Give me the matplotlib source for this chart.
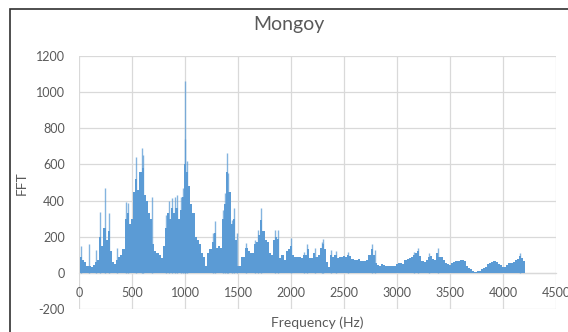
import matplotlib.pyplot as plt
from matplotlib.patches import Rectangle

plt.rcParams['font.family'] = ['Lato', 'DejaVu Sans']
plt.rcParams['axes.unicode_minus'] = False

# FFT magnitude, one value per 20 Hz bin (20 ... 4200 Hz)
freq_hz = list(range(20, 4201, 20))
fft_level = [
    90, 70, 60, 40, 40, 35, 45, 60, 70, 200,          # 20-200
    150, 250, 180, 230, 120, 60, 50, 70, 90, 100,     # 220-400
    130, 300, 330, 270, 300, 450, 520, 460, 560, 580, # 420-600
    430, 400, 330, 300, 160, 120, 110, 100, 80, 150,  # 620-800
    250, 330, 300, 360, 330, 360, 300, 350, 420, 600, # 820-1000
    560, 480, 380, 330, 200, 180, 160, 110, 90, 40,   # 1020-1200
    110, 130, 170, 220, 140, 150, 140, 300, 380, 560, # 1220-1400
    450, 270, 300, 180, 40, 40, 90, 90, 140, 120,     # 1420-1600
    110, 110, 160, 170, 210, 290, 230, 180, 170, 110, # 1620-1800
    100, 180, 200, 190, 80, 100, 70, 120, 130, 150,   # 1820-2000
    100, 90, 85, 90, 80, 100, 100, 130, 80, 80,       # 2020-2200
    110, 90, 100, 140, 160, 130, 60, 30, 100, 90,     # 2220-2400
    100, 80, 85, 90, 95, 90, 100, 95, 75, 70,         # 2420-2600
    70, 75, 65, 65, 65, 70, 100, 130, 100, 55,        # 2620-2800
    45, 40, 50, 45, 40, 40, 40, 40, 40, 50,           # 2820-3000
    55, 55, 50, 70, 75, 80, 90, 100, 110, 120,        # 3020-3200
    95, 65, 60, 70, 90, 95, 75, 70, 110, 90,          # 3220-3400
    85, 70, 55, 50, 45, 55, 60, 65, 65, 70,           # 3420-3600
    70, 65, 40, 25, 20, 10, 5, 8, 10, 20,             # 3620-3800
    25, 30, 50, 55, 60, 65, 60, 50, 45, 30,           # 3820-4000
    35, 45, 55, 55, 60, 70, 75, 95, 80, 65,           # 4020-4200
]

# narrow peaks rising above the bins
spike_hz = [20, 90, 160, 198, 244, 284, 355, 445, 460, 540, 590, 605,
            690, 820, 850, 880, 905, 920, 958, 977, 1000, 1003, 1020,
            1265, 1280, 1360, 1380, 1393, 1410, 1440, 1465, 1487, 1580,
            1660, 1690, 1716, 1848, 1875, 2000, 2120, 2155, 2225, 2288,
            2304, 2382, 2420, 2540, 2765, 2791, 3160, 3200, 3300, 3388,
            4165]
spike_fft = [150, 160, 125, 335, 470, 330, 140, 390, 385, 640, 690, 650,
             420, 320, 400, 415, 420, 430, 420, 470, 1060, 740, 620,
             220, 285, 350, 440, 665, 550, 290, 357, 220, 165,
             180, 237, 360, 237, 237, 195, 118, 157, 136, 173,
             190, 127, 120, 118, 157, 127, 118, 136, 108, 136,
             108]

blue = '#5B9BD5'
grey_text = '#595959'
grid_col = '#D9D9D9'

fig = plt.figure(figsize=(5.68, 3.32), dpi=100)
ax = fig.add_axes([79 / 568, 1 - 309 / 332, 477 / 568, 253 / 332])

ax.bar(freq_hz, fft_level, width=20, color=blue, linewidth=0, zorder=3)
ax.vlines(spike_hz, 0, spike_fft, colors=blue, linewidth=1.0, alpha=0.75, zorder=3)

ax.set_xlim(0, 4500)
ax.set_ylim(-200, 1200)
ax.set_xticks(range(0, 4501, 500))
ax.set_yticks(range(-200, 1201, 200))
ax.grid(color=grid_col, linewidth=0.9)
ax.set_axisbelow(True)
for side in ['top', 'right', 'left']:
    ax.spines[side].set_visible(False)
ax.spines['bottom'].set_position(('data', 0))
ax.spines['bottom'].set_color(grid_col)
ax.spines['bottom'].set_linewidth(0.9)
ax.tick_params(axis='both', length=0, labelsize=9, colors=grey_text)
ax.tick_params(axis='x', pad=10)
ax.tick_params(axis='y', pad=10)

fig.text(289 / 568, 1 - 30 / 332, 'Mongoy', ha='center', va='baseline',
         fontsize=14, color=grey_text)
fig.text(317 / 568, 1 - 323 / 332, 'Frequency (Hz)', ha='center', va='center',
         fontsize=10, color=grey_text)
fig.text(22 / 568, 1 - 183 / 332, 'FFT', ha='center', va='center',
         rotation=90, fontsize=10, color=grey_text)

# chart frame, running off the right and bottom edges
fig.patches.append(Rectangle((10 / 568, -0.1), 1.2, 1.1 - 9 / 332, fill=False,
                             edgecolor='#303030', linewidth=1.2,
                             transform=fig.transFigure))

fig.savefig('out.png', dpi=100)
